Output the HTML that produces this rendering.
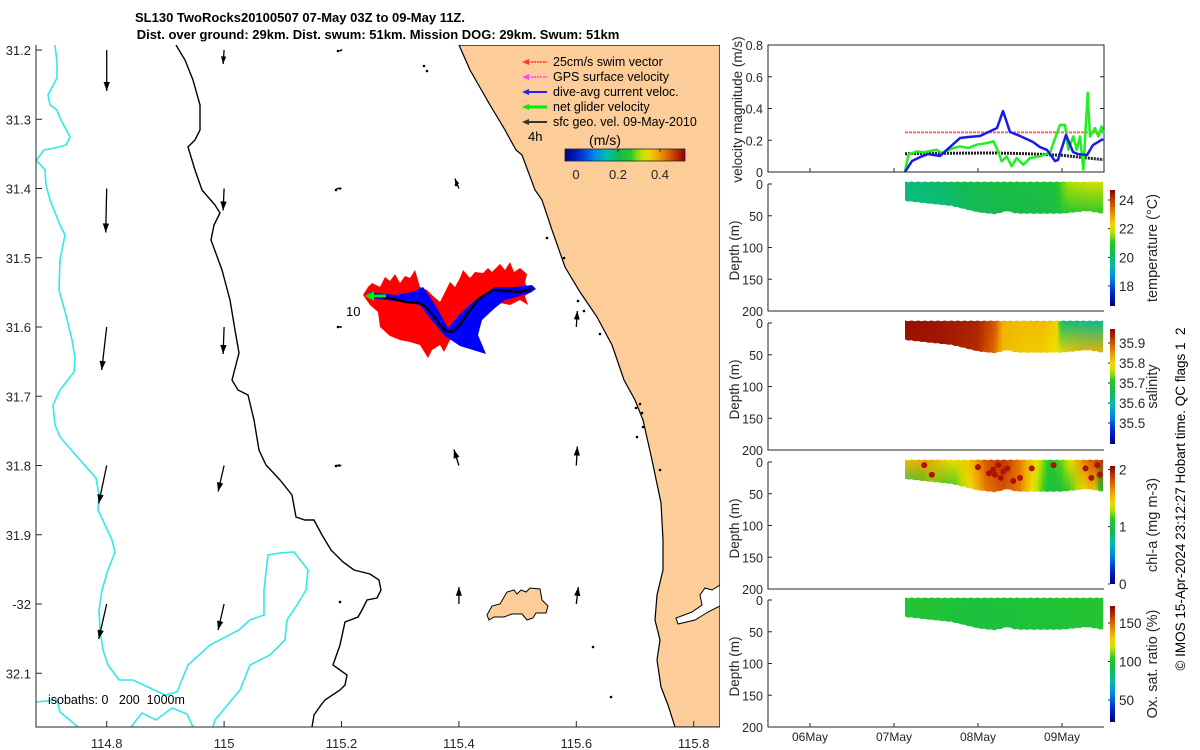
<!DOCTYPE html>
<html><head><meta charset="utf-8"><style>
html,body{margin:0;padding:0;background:#fff}
svg{display:block;font-family:"Liberation Sans",sans-serif}
</style></head><body>
<svg id="root" width="1200" height="750" viewBox="0 0 1200 750" xmlns="http://www.w3.org/2000/svg">
<g id="mapg"></g>
<g id="rightg"></g>
</svg>
<script>
// ---------- DATA ----------
const mapLonTicks=[114.8,115,115.2,115.4,115.6,115.8];
const mapLatTicks=[31.2,31.3,31.4,31.5,31.6,31.7,31.8,31.9,32.0,32.1];
const mapLatLabels=["31.2","31.3","31.4","31.5","31.6","31.7","31.8","31.9","-32","32.1"];
// geostrophic velocity grid (lon, lat, u px-east, v px-south)
const geoLon=[114.8,114.8,114.8,114.8,114.8,115,115,115,115,115,115.2,115.2,115.2,115.2,115.4,115.4,115.4,115.6,115.6,115.6];
const geoLat=[31.2,31.4,31.6,31.8,32.0,31.2,31.4,31.6,31.8,32.0,31.2,31.4,31.6,31.8,31.4,31.8,32.0,31.6,31.8,32.0];
const geoU=[0,-1,-5,-8,-8,-1,-1,-1,-6,-6,-2,-5,-3,-6,-4,-5,0,1,1,2];
const geoV=[41,44,43,38,35,14,22,27,26,26,1,0,0,0,-10,-16,-17,-16,-19,-17];
// velocity panel (days since 06May 00:00)
const curT=[1.131,1.214,1.310,1.405,1.548,1.786,1.869,2.024,2.226,2.298,2.381,2.500,2.655,2.738,2.821,2.917,2.952,3.048,3.131,3.190,3.298,3.369,3.488];
const curV=[0,0.069,0.094,0.113,0.101,0.214,0.220,0.227,0.277,0.384,0.252,0.227,0.189,0.157,0.139,0.069,0.076,0.233,0.126,0.113,0.107,0.170,0.208];
const netT=[1.131,1.171,1.270,1.349,1.508,1.567,1.706,1.786,1.885,1.984,2.103,2.183,2.222,2.282,2.341,2.401,2.460,2.540,2.619,2.738,2.857,2.897,2.976,3.036,3.075,3.135,3.175,3.214,3.254,3.306,3.333,3.393,3.433,3.472,3.492];
const netV=[0.004,0.109,0.130,0.124,0.140,0.119,0.151,0.161,0.151,0.172,0.182,0.193,0.151,0.067,0.098,0.036,0.088,0.046,0.088,0.099,0.120,0.182,0.297,0.297,0.140,0.224,0.140,0.224,0.015,0.499,0.224,0.276,0.224,0.287,0.245];
const swimT=[1.131,3.49];
const swimV=[0.25,0.25];
const geoT=[1.131,1.6,2.2,2.6,3.0,3.49];
const geoVel=[0.115,0.118,0.12,0.115,0.105,0.078];
const dateTicks=[0,1,2,3];
const dateLabels=["06May","07May","08May","09May"];
// section profile
const profT=[1.131,1.4,1.69,2.0,2.2,2.35,2.42,2.5,3.0,3.3,3.49];
const profBot=[26,30,34,44,47,42,45,46,46,42,46];
const profTop=-4;
const tempT=[1.131,1.5,1.9,2.3,2.7,2.92,3.0,3.1,3.3,3.49];
const tempTop=[19.9,20.0,20.3,20.5,20.6,20.7,21.3,21.7,21.9,21.9];
const tempBot=[19.7,19.8,20.1,20.3,20.4,20.5,20.7,20.8,20.9,21.0];
const salT=[1.131,1.6,2.0,2.2,2.3,2.5,2.8,2.95,3.0,3.2,3.49];
const salTop=[35.96,35.95,35.94,35.90,35.83,35.82,35.82,35.8,35.63,35.62,35.61];
const salBot=[35.95,35.95,35.93,35.88,35.82,35.81,35.80,35.78,35.8,35.82,35.83];
const chlT=[1.131,1.4,1.7,1.9,2.1,2.3,2.5,2.7,2.85,3.0,3.2,3.35,3.49];
const chlTop=[1.5,1.6,1.4,1.5,1.8,1.9,1.7,1.4,1.1,1.2,1.6,1.8,1.9];
const chlBot=[0.8,1.2,1.1,1.4,1.7,1.8,1.7,1.3,1.0,1.0,1.3,1.5,1.0];
const chlDotT=[1.36,1.45,2.0,2.13,2.18,2.2,2.24,2.27,2.3,2.35,2.42,2.5,2.64,2.9,3.28,3.35,3.42,3.45];
const chlDotD=[5,20,8,18,12,20,5,25,15,10,30,25,10,5,10,25,5,20];
const oxT=[1.131,1.5,2.0,2.5,3.0,3.49];
const oxTop=[101,100,97,99,100,102];
const oxBot=[99,98,95,97,98,99];

// ---------- HELPERS ----------
const NS="http://www.w3.org/2000/svg";
function mk(tag,attrs,parent){const e=document.createElementNS(NS,tag);for(const k in attrs)e.setAttribute(k,attrs[k]);(parent||document.getElementById('root')).appendChild(e);return e;}
const stops=[[0,[0,0,130]],[0.12,[0,40,210]],[0.25,[0,140,230]],[0.35,[0,190,170]],[0.45,[20,185,80]],[0.55,[40,200,40]],[0.62,[170,225,0]],[0.68,[240,225,0]],[0.78,[240,160,0]],[0.88,[210,80,0]],[1,[140,0,0]]];
function cmap(f){f=Math.max(0,Math.min(1,f));for(let i=1;i<stops.length;i++){if(f<=stops[i][0]){const a=stops[i-1],b=stops[i];const r=(f-a[0])/(b[0]-a[0]);const c=a[1].map((v,j)=>Math.round(v+(b[1][j]-v)*r));return `rgb(${c[0]},${c[1]},${c[2]})`;}}return 'rgb(140,0,0)';}
function interp(xs,ys,x){if(x<=xs[0])return ys[0];for(let i=1;i<xs.length;i++)if(x<=xs[i]){const r=(x-xs[i-1])/(xs[i]-xs[i-1]);return ys[i-1]+(ys[i]-ys[i-1])*r;}return ys[ys.length-1];}

// ---------- MAP ----------
const map=document.getElementById('mapg');
const MX0=36,MX1=720,MY0=45,MY1=727;
const lonX=lon=>106.7+(lon-114.8)*587;
const latY=lat=>50+(lat-31.2)*692.5;
let defs=mk('defs',{},map);
let cp=mk('clipPath',{id:'mapclip'},defs);mk('rect',{x:MX0,y:MY0,width:MX1-MX0,height:MY1-MY0},cp);
let mg=mk('g',{'clip-path':'url(#mapclip)'},map);
// land
let land=mk('polygon',{points:"459,45 470,70 490,105 505,130 516,150 522,155 535,190 542,200 552,230 565,267 580,292 597,317 612,345 624,380 635,400 643,420 652,460 661,503 663,540 663,570 657,595 655,620 660,640 657,660 661,687 668,705 675,727 720,727 720,45",fill:'#fccc99',stroke:'#000','stroke-width':1.2},mg);

mk('polygon',{points:"720,585 712,590 705,588 700,595 702,605 692,612 676,618 678,624 695,620 708,612 720,606",fill:'#fff',stroke:'#000','stroke-width':1},mg);
let isl=mk('polygon',{points:"487,615 492,606 500,604 507,592 514,590 517,594 521,590 526,592 530,588 540,589 542,600 548,606 546,613 536,613 533,618 527,620 522,614 512,614 504,617 494,617 489,620",fill:'#fccc99',stroke:'#000','stroke-width':1},mg);

// small islets
[[338,51],[424,66],[427,71],[336,190],[338,327],[336,466],[340,602],[456,185],[636,408],[637,437],[547,238],[564,258],[578,301],[584,311],[640,404],[642,413],[643,427],[660,470],[600,334],[611,697],[593,647]].forEach(p=>mk('circle',{cx:p[0],cy:p[1],r:1.3,fill:'#000'},mg));
// isobaths
const iso200="176,45 185,60 193,80 200,105 200,130 195,140 188,147 195,170 202,190 215,205 220,213 214,225 211,240 222,270 230,300 235,330 239,353 232,380 238,390 248,395 254,420 259,450 266,465 280,480 292,495 296,517 305,520 314,520 322,535 331,550 343,562 354,570 370,574 379,580 381,590 377,598 367,600 362,610 358,617 345,622 340,645 333,665 347,675 345,685 340,690 325,700 321,705 314,715 312,727";
let b200=mk('polyline',{points:iso200,fill:'none',stroke:'#000','stroke-width':1.4},mg);

const iso1000a="55,45 57,62 57,78 48,95 50,105 57,110 60,118 70,137 66,145 55,148 44,150 38,158 36,160 45,170 46,185 50,200 56,215 60,225 65,235 60,260 59,290 66,315 72,340 75,358 74,372 60,390 53,405 55,425 60,437 80,460 96,478 99,495 98,510 105,525 112,540 115,552 108,570 102,590 99,610 100,630 103,650 108,665 119,680 133,680 150,688 165,695 177,692 188,665 210,645 239,630 250,620 264,615 264,590 268,555 280,553 294,552 308,570 306,590 297,605 287,620 285,640 270,655 250,665 240,690 215,720 213,727";
let c1000=mk('polyline',{points:iso1000a,fill:'none',stroke:'#33e8e8','stroke-width':1.6},mg);

mk('polyline',{points:"36,702 57,700 60,712 78,727",fill:'none',stroke:'#33e8e8','stroke-width':1.6},mg);
mk('polyline',{points:"131,727 142,713 156,720 172,708 187,714 193,727",fill:'none',stroke:'#33e8e8','stroke-width':1.6},mg);
// geo arrows
for(let i=0;i<geoLon.length;i++){
  const x=lonX(geoLon[i]),y=latY(geoLat[i]);const x2=x+geoU[i],y2=y+geoV[i];
  const g=mk('g',{},mg);
  
  
  mk('line',{x1:x,y1:y,x2:x2,y2:y2,stroke:'#000','stroke-width':1.3},g);
  const L=Math.hypot(geoU[i],geoV[i])||1;const ux=geoU[i]/L,uy=geoV[i]/L;const h=Math.min(7,L*0.4)+2;
  mk('polygon',{points:`${x2},${y2} ${x2-ux*h-uy*h*0.35},${y2-uy*h+ux*h*0.35} ${x2-ux*h+uy*h*0.35},${y2-uy*h-ux*h*0.35}`,fill:'#000'},g);
}
// swim vector cloud / current
let red=mk('polygon',{points:"363,295 368,287 372,283 380,287 385,277 390,281 395,274 400,283 405,276 410,278 415,270 420,287 427,290 433,296 440,302 446,290 450,282 455,287 460,278 463,270 470,278 475,272 483,273 488,268 492,272 500,264 505,270 510,262 514,272 520,268 527,274 525,283 530,292 525,296 528,305 520,300 510,305 500,303 490,308 482,315 470,325 460,335 450,340 444,352 440,345 432,350 428,358 420,345 410,342 400,340 390,336 380,327 378,312 370,305",fill:'#ff0000'},mg);

let blue=mk('polygon',{points:"370,292 395,295 413,292 423,287 432,300 438,310 448,328 460,314 475,300 495,287 515,287 532,285 536,289 530,293 520,296 505,300 495,308 482,320 478,335 486,354 460,346 445,336 430,318 420,305 395,301 370,298",fill:'#0000ff'},mg);

let trk=mk('polyline',{points:"370,296 390,298 405,302 418,303 425,306 433,315 440,325 446,331 453,332 460,325 470,310 480,298 493,290 505,291 520,292 531,289",fill:'none',stroke:'#000','stroke-width':2.2},mg);

let grn=mk('g',{},mg);
mk('line',{x1:386,y1:296,x2:372,y2:296,stroke:'#00ee00','stroke-width':3},grn);
mk('polygon',{points:"365,296 374,291 374,301",fill:'#00ee00'},grn);
// map texts
function txt(p,x,y,s,attrs,name){const t=mk('text',Object.assign({x:x,y:y,'font-size':13,fill:'#262626'},attrs||{}),p);t.textContent=s;return t;}
txt(map,346,316,"10",{'font-size':13,fill:'#000'},'track-label-10');
txt(map,528,141,"4h",{'font-size':13,fill:'#000'},'track-label-4h');
txt(map,48,704,"isobaths: 0   200  1000m",{'font-size':12.5,fill:'#000',style:'white-space:pre'},'isobath-legend');
// legend
const legLabels=["25cm/s swim vector","GPS surface velocity","dive-avg current veloc.","net glider velocity","sfc geo. vel. 09-May-2010"];
const legCols=["#ff3333","#ff44ff","#2222ff","#00ee00","#333"];
legLabels.forEach((s,i)=>{const y=62+i*15;const g=mk('g',{},map);
  
  
  mk('line',{x1:528,y1:y,x2:547,y2:y,stroke:legCols[i],'stroke-width':i>=2?(i==3?3:2):1.5,'stroke-dasharray':i<2?'2,1':''},g);
  mk('polygon',{points:`${522},${y} ${529},${y-3} ${529},${y+3}`,fill:legCols[i]},g);
  txt(g,553,y+4,s,{'font-size':12.5,fill:'#000'},'legend-label');});
txt(map,605,145,"(m/s)",{'font-size':14,fill:'#000','text-anchor':'middle'},'speed-colorbar-title');
let lg=mk('linearGradient',{id:'gspd',x1:0,x2:1,y1:0,y2:0},defs);
for(let i=0;i<=20;i++)mk('stop',{offset:i/20,'stop-color':cmap(i/20)},lg);
let scb=mk('rect',{x:565,y:149,width:120,height:12,fill:'url(#gspd)',stroke:'#222','stroke-width':0.8},map);

[[0,"0"],[0.2,"0.2"],[0.4,"0.4"]].forEach(a=>{const x=576+a[0]*210;mk('line',{x1:x,y1:149,x2:x,y2:152,stroke:'#222'},map);txt(map,x,179,a[1],{'text-anchor':'middle','font-size':13},'speed-colorbar-tick');});
// map axes
mk('polyline',{points:`${MX0},${MY0} ${MX0},${MY1} ${MX1},${MY1}`,fill:'none',stroke:'#262626','stroke-width':1},map);
mapLonTicks.forEach(l=>{const x=lonX(l);mk('line',{x1:x,y1:MY1,x2:x,y2:MY1-6,stroke:'#262626'},map);txt(map,x,748,String(l),{'text-anchor':'middle'},'x-tick-label');});
mapLatTicks.forEach((l,i)=>{const y=latY(l);mk('line',{x1:MX0,y1:y,x2:MX0+6,y2:y,stroke:'#262626'},map);txt(map,31,y+5,mapLatLabels[i],{'text-anchor':'end'},'y-tick-label');});
txt(map,300,22,"SL130 TwoRocks20100507 07-May 03Z to 09-May 11Z.",{'text-anchor':'middle','font-weight':'bold','font-size':13,fill:'#000'},'chart-title');
txt(map,378,39,"Dist. over ground: 29km. Dist. swum: 51km. Mission DOG: 29km. Swum: 51km",{'text-anchor':'middle','font-weight':'bold','font-size':13,fill:'#000'},'chart-subtitle');

// ---------- RIGHT PANELS ----------
const R=document.getElementById('rightg');
const AX0=768,AX1=1104;
const tX=t=>810+t*84;
// velocity
const VY0=45,VY1=172;const vY=v=>VY1-v*(VY1-VY0)/0.8;
mk('rect',{x:AX0,y:VY0,width:AX1-AX0,height:VY1-VY0,fill:'none',stroke:'#262626'},R);
[0,0.2,0.4,0.6,0.8].forEach(v=>{const y=vY(v);mk('line',{x1:AX0,y1:y,x2:AX0+4,y2:y,stroke:'#262626'},R);mk('line',{x1:AX1,y1:y,x2:AX1-4,y2:y,stroke:'#262626'},R);txt(R,763,y+5,String(v),{'text-anchor':'end','font-size':12.5},'velocity-tick-label');});
function series(ts,vs,col,w,name,dash){const pts=ts.map((t,i)=>tX(t)+','+vY(vs[i])).join(' ');const p=mk('polyline',{points:pts,fill:'none',stroke:col,'stroke-width':w,'stroke-dasharray':dash||'','stroke-linejoin':'round'},R);}
series(swimT,swimV,'#ff6666',2,'swim-speed-line','3,1');
series(geoT,geoVel,'#222',3,'geo-velocity-line','2,1');
series(netT,netV,'#22ee22',2.5,'net-glider-velocity-line');
series(curT,curV,'#1a1aee',2.5,'current-velocity-line');
txt(R,0,0,"velocity magnitude (m/s)",{'text-anchor':'middle','font-size':13.5,transform:`translate(742,${(VY0+VY1)/2+1}) rotate(-90)`},'velocity-axis-title');
// sections
const panels=[
 {y0:184,y1:311,t:tempT,top:tempTop,bot:tempBot,min:16.6,max:24.7,ticks:[18,20,22,24],cb0:190,cb1:306,label:"temperature (°C)",name:'temperature'},
 {y0:323,y1:450,t:salT,top:salTop,bot:salBot,min:35.395,max:35.97,ticks:[35.5,35.6,35.7,35.8,35.9],cb0:329,cb1:444,label:"salinity",name:'salinity'},
 {y0:462,y1:589,t:chlT,top:chlTop,bot:chlBot,min:0,max:2.06,ticks:[0,1,2],cb0:466,cb1:584,label:"chl-a (mg m-3)",name:'chlorophyll'},
 {y0:600,y1:727,t:oxT,top:oxTop,bot:oxBot,min:21.6,max:172,ticks:[50,100,150],cb0:606,cb1:722,label:"Ox. sat. ratio (%)",name:'oxygen'}];
panels.forEach((P,pi)=>{
  const dY=d=>P.y0+d*(P.y1-P.y0)/200;
  const g=mk('g',{},R);
  
  
  const cid='clip'+pi;const c=mk('clipPath',{id:cid},defs);
  let pts=[];const N=60;
  for(let i=0;i<=N;i++){const t=profT[0]+(profT[profT.length-1]-profT[0])*i/N;pts.push(tX(t)+','+dY(profTop+(i%2?1.2:0)));}
  for(let i=N;i>=0;i--){const t=profT[0]+(profT[profT.length-1]-profT[0])*i/N;pts.push(tX(t)+','+dY(interp(profT,profBot,t)+(i%2?1:0)));}
  mk('polygon',{points:pts.join(' ')},c);
  const sg=mk('g',{'clip-path':`url(#${cid})`},g);
  const M=80,t0=P.t[0],t1=P.t[P.t.length-1];
  for(let i=0;i<M;i++){
    const ta=t0+(t1-t0)*i/M,tb=t0+(t1-t0)*(i+1)/M,tm=(ta+tb)/2;
    const gid='g'+pi+'_'+i;const lgr=mk('linearGradient',{id:gid,x1:0,x2:0,y1:0,y2:1},defs);
    mk('stop',{offset:0,'stop-color':cmap((interp(P.t,P.top,tm)-P.min)/(P.max-P.min))},lgr);
    mk('stop',{offset:1,'stop-color':cmap((interp(P.t,P.bot,tm)-P.min)/(P.max-P.min))},lgr);
    mk('rect',{x:tX(ta)-0.3,y:dY(-5),width:tX(tb)-tX(ta)+0.8,height:dY(50)-dY(-5),fill:`url(#${gid})`},sg);
  }
  if(P.name==='chlorophyll'){for(let k=0;k<chlDotT.length;k++)mk('circle',{cx:tX(chlDotT[k]),cy:dY(chlDotD[k]),r:3,fill:'#b01000'},sg);}
  // axes
  mk('polyline',{points:`${AX0},${P.y0} ${AX0},${P.y1} ${AX1},${P.y1}`,fill:'none',stroke:'#262626'},R);
  [0,50,100,150,200].forEach(d=>{const y=dY(d);mk('line',{x1:AX0,y1:y,x2:AX0+4,y2:y,stroke:'#262626'},R);txt(R,763,y+5,String(d),{'text-anchor':'end','font-size':12.5},'depth-tick-label');});
  txt(R,0,0,"Depth (m)",{'text-anchor':'middle','font-size':13.5,transform:`translate(739,${(P.y0+P.y1)/2+3}) rotate(-90)`},'depth-axis-title');
  // colorbar
  const cg=mk('linearGradient',{id:'cb'+pi,x1:0,x2:0,y1:1,y2:0},defs);
  for(let i=0;i<=20;i++)mk('stop',{offset:i/20,'stop-color':cmap(i/20)},cg);
  const cb=mk('rect',{x:1110,y:P.cb0,width:5,height:P.cb1-P.cb0,fill:`url(#cb${pi})`},R);
  
  P.ticks.forEach(v=>{const y=P.cb1-(v-P.min)/(P.max-P.min)*(P.cb1-P.cb0);mk('line',{x1:1108,y1:y,x2:1110,y2:y,stroke:'#262626'},R);txt(R,1119,y+5,String(v),{'font-size':13.5},'colorbar-tick-label');});
  txt(R,0,0,P.label,{'text-anchor':'middle','font-size':14.5,transform:`translate(1157,${(P.cb0+P.cb1)/2}) rotate(-90)`},'colorbar-title');
});
// date ticks
dateTicks.forEach((d,i)=>{const x=tX(d);mk('line',{x1:x,y1:727,x2:x,y2:723,stroke:'#262626'},R);mk('line',{x1:x,y1:172,x2:x,y2:168,stroke:'#262626'},R);txt(R,x,741,dateLabels[i],{'text-anchor':'middle','font-size':12},'date-tick-label');});
txt(R,0,0,"© IMOS 15-Apr-2024 23:12:27 Hobart time. QC flags 1  2",{'text-anchor':'middle','font-size':13.5,fill:'#000',style:'white-space:pre',transform:'translate(1185,499) rotate(-90)'},'credit-text');
</script>
</body></html>
